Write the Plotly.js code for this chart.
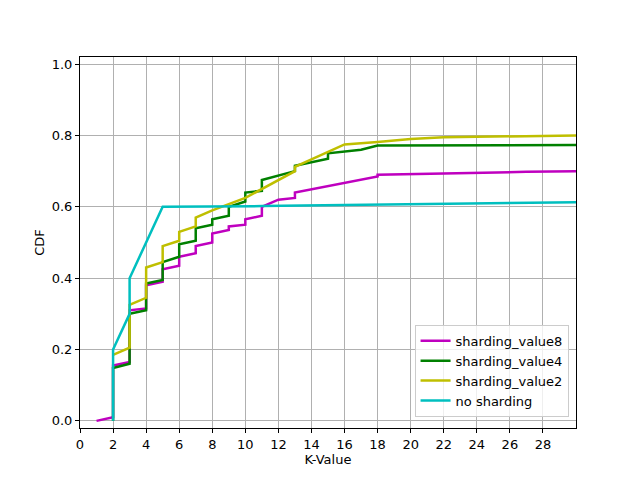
<!DOCTYPE html>
<html>
<head>
<script src="https://cdn.plot.ly/plotly-3.0.1.min.js"></script>
</head>
<body style="margin:0">
<div id="chart" style="width:640px;height:480px"></div>
<script>
// sharding_value8
var x8 = [1, 2, 2, 3, 3, 4, 4, 5, 5, 6, 6, 7, 7, 8, 8, 9, 9, 10, 10, 11, 11, 12, 13, 13, 18, 18, 27, 30];
var y8 = [0, 0.01, 0.155, 0.165, 0.31, 0.315, 0.38, 0.39, 0.425, 0.435, 0.46, 0.47, 0.49, 0.5, 0.525, 0.535, 0.545, 0.55, 0.565, 0.575, 0.6, 0.62, 0.625, 0.64, 0.685, 0.69, 0.698, 0.7];
// sharding_value4
var x4 = [2, 2, 3, 3, 4, 4, 5, 5, 6, 6, 7, 7, 8, 8, 9, 9, 10, 10, 11, 11, 13, 13, 15, 15, 17, 18, 30];
var y4 = [0, 0.148, 0.16, 0.3, 0.31, 0.385, 0.395, 0.445, 0.46, 0.495, 0.505, 0.54, 0.55, 0.565, 0.575, 0.6, 0.615, 0.64, 0.645, 0.675, 0.7, 0.715, 0.735, 0.75, 0.76, 0.772, 0.773];
// sharding_value2
var x2 = [2, 3, 3, 4, 4, 5, 5, 6, 6, 7, 7, 8, 10, 11, 13, 13, 16, 18, 20, 22, 30];
var y2 = [0.185, 0.205, 0.325, 0.345, 0.43, 0.445, 0.49, 0.505, 0.53, 0.545, 0.57, 0.59, 0.625, 0.65, 0.7, 0.712, 0.775, 0.782, 0.79, 0.795, 0.8];
// no sharding
var x0 = [2, 2, 3, 3, 5, 11, 30];
var y0 = [0, 0.2, 0.3, 0.4, 0.6, 0.602, 0.613];

var xTicks = [0, 2, 4, 6, 8, 10, 12, 14, 16, 18, 20, 22, 24, 26, 28];

function line(x, y, name, color) {
  return {x: x, y: y, name: name, type: 'scatter', mode: 'lines', line: {color: color, width: 2.5}};
}

var data = [
  line(x8, y8, 'sharding_value8', '#bf00bf'),
  line(x4, y4, 'sharding_value4', '#008000'),
  line(x2, y2, 'sharding_value2', '#bfbf00'),
  line(x0, y0, 'no sharding', '#00bfbf')
];

var axisStyle = {showgrid: true, gridcolor: '#b0b0b0', zeroline: false, showline: true, mirror: true,
  linecolor: 'black', ticks: 'outside', ticklen: 4, tickcolor: 'black', tickfont: {size: 13, color: 'black'}};

var layout = {
  width: 640, height: 480,
  margin: {l: 80, r: 64, t: 57, b: 52},
  font: {family: 'DejaVu Sans', color: 'black'},
  plot_bgcolor: 'white', paper_bgcolor: 'white',
  xaxis: Object.assign({}, axisStyle, {range: [0, 30], tickvals: xTicks, title: {text: 'K-Value', font: {size: 13}, standoff: 4}}),
  yaxis: Object.assign({}, axisStyle, {range: [-0.02, 1.02], tickvals: [0, 0.2, 0.4, 0.6, 0.8, 1.0], ticktext: ['0.0', '0.2', '0.4', '0.6', '0.8', '1.0'], title: {text: 'CDF', font: {size: 13}}}),
  legend: {x: 0.985, y: 0.03, xanchor: 'right', yanchor: 'bottom', bordercolor: '#cccccc', borderwidth: 1, bgcolor: 'rgba(255,255,255,0.8)', font: {size: 13}},
  showlegend: true
};

Plotly.newPlot('chart', data, layout, {displayModeBar: false});
</script>
</body>
</html>
